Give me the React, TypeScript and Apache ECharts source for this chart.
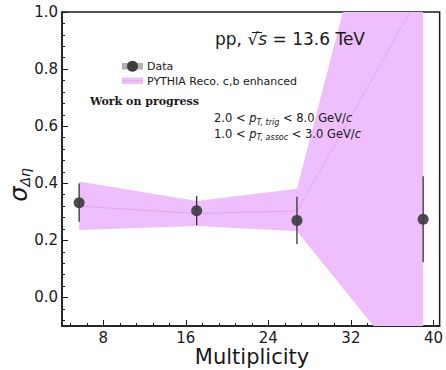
import React, { useEffect, useRef } from "react";
import * as echarts from "echarts";

// Multiplicity bins (x positions of the measurements)
const multiplicity = [5.66, 17.05, 26.77, 39.0];
// Measured width of the near-side peak and its uncertainty
const dataSigma = [0.332, 0.304, 0.27, 0.274];
const dataErr = [0.067, 0.051, 0.083, 0.151];
// PYTHIA prediction: central value and band edges
const pythiaSigma = [0.32, 0.294, 0.303, 1.08];
const pythiaLow = [0.236, 0.25, 0.232, -0.315];
const pythiaHigh = [0.406, 0.338, 0.381, 2.08];

// Axis ticks
const xMajorTicks = [8, 16, 24, 32, 40];
const yMajorTicks = [0, 0.2, 0.4, 0.6, 0.8, 1.0];
const X_MIN = 4;
const X_MAX = 40.6;
const Y_MIN = -0.1;
const Y_MAX = 1.0;

const xMinorTicks: number[] = [];
for (let k = 3; k <= 25; k++) {
  if (k % 5 !== 0) xMinorTicks.push(+(k * 1.6).toFixed(2));
}
const yMinorTicks: number[] = [];
for (let k = -2; k <= 25; k++) {
  if (k % 5 !== 0) yMinorTicks.push(+(k * 0.04).toFixed(2));
}

const FONT = "DejaVu Sans";
const INK = "#1a1a1a";
const BAND = "#efbefc";
const BAND_LINE = "#dc8fe6";
const POINT = "#3e3e42";

function valueAxis(min: number, max: number, position: string, ticks: number[], major: boolean) {
  return {
    type: "value",
    min,
    max,
    position,
    offset: 0,
    axisLine: {
      show: true,
      onZero: false,
      lineStyle: { color: INK, width: 1.5, opacity: major ? 1 : 0 },
    },
    axisTick: {
      show: true,
      inside: true,
      length: major ? 6 : 3,
      customValues: ticks,
      lineStyle: { color: INK, width: 1 },
    },
    axisLabel: major
      ? {
          show: true,
          customValues: ticks,
          color: INK,
          fontFamily: FONT,
          fontSize: 15,
          margin: 4,
        }
      : { show: false },
    splitLine: { show: false },
  };
}

export default function App() {
  const ref = useRef<HTMLDivElement>(null);

  useEffect(() => {
    if (!ref.current) return;
    const chart = echarts.init(ref.current, null, { renderer: "svg" });

    const yMain: any = valueAxis(Y_MIN, Y_MAX, "left", yMajorTicks, true);
    yMain.axisLabel.formatter = (v: number) => v.toFixed(1);

    const subRich = {
      n: { fontFamily: FONT, fontSize: 11.5, lineHeight: 16, fill: INK },
      i: { fontFamily: FONT, fontSize: 11.5, fontStyle: "italic", lineHeight: 16, fill: INK },
      s: { fontFamily: FONT, fontSize: 8, fontStyle: "italic", lineHeight: 9, verticalAlign: "bottom", fill: INK },
    };

    const option: any = {
      animation: false,
      backgroundColor: "#ffffff",
      grid: {
        left: 62,
        top: 12,
        right: 4,
        bottom: 44,
        show: true,
        borderColor: INK,
        borderWidth: 1.5,
        backgroundColor: "transparent",
      },
      xAxis: [
        valueAxis(X_MIN, X_MAX, "bottom", xMajorTicks, true),
        valueAxis(X_MIN, X_MAX, "bottom", xMinorTicks, false),
      ],
      yAxis: [yMain, valueAxis(Y_MIN, Y_MAX, "left", yMinorTicks, false)],
      series: [
        {
          // PYTHIA uncertainty band, drawn as one polygon through the axis scales
          name: "PYTHIA band",
          type: "custom",
          clip: true,
          silent: true,
          data: multiplicity.map((x, i) => [x, pythiaSigma[i]]),
          encode: { x: 0, y: 1 },
          renderItem: (params: any, api: any) => {
            if (params.dataIndex !== 0) return null;
            const upper = multiplicity.map((x, i) => api.coord([x, pythiaHigh[i]]));
            const lower = multiplicity
              .map((x, i) => api.coord([x, pythiaLow[i]]))
              .reverse();
            return {
              type: "polygon",
              shape: { points: [...upper, ...lower] },
              style: { fill: BAND },
            };
          },
          z: 1,
        },
        {
          name: "PYTHIA",
          type: "line",
          symbol: "none",
          silent: true,
          lineStyle: { color: BAND_LINE, width: 1, type: "dotted" },
          data: multiplicity.map((x, i) => [x, pythiaSigma[i]]),
          z: 2,
        },
        {
          name: "errors",
          type: "custom",
          silent: true,
          data: multiplicity.map((x, i) => [x, dataSigma[i], dataErr[i]]),
          encode: { x: 0, y: 1 },
          renderItem: (_params: any, api: any) => {
            const x = api.value(0);
            const y = api.value(1);
            const e = api.value(2);
            const p1 = api.coord([x, y - e]);
            const p2 = api.coord([x, y + e]);
            return {
              type: "line",
              shape: { x1: p1[0], y1: p1[1], x2: p2[0], y2: p2[1] },
              style: { stroke: "#333336", lineWidth: 1.3 },
            };
          },
          z: 3,
        },
        {
          name: "Data",
          type: "scatter",
          symbol: "circle",
          symbolSize: 11,
          silent: true,
          itemStyle: { color: POINT, opacity: 0.92 },
          data: multiplicity.map((x, i) => [x, dataSigma[i]]),
          z: 4,
        },
      ],
      graphic: [
        // legend: Data
        {
          type: "rect",
          shape: { x: 122, y: 63, width: 21, height: 6.5 },
          style: { fill: "#b3b3b3" },
          z: 10,
        },
        {
          type: "circle",
          shape: { cx: 132.5, cy: 66.2, r: 5.5 },
          style: { fill: POINT },
          z: 11,
        },
        {
          type: "text",
          style: {
            text: "Data",
            x: 147,
            y: 66,
            fill: INK,
            font: `11px '${FONT}'`,
            verticalAlign: "middle",
          },
          z: 10,
        },
        // legend: PYTHIA
        {
          type: "rect",
          shape: { x: 122, y: 77.5, width: 21, height: 6.5 },
          style: { fill: BAND },
          z: 10,
        },
        {
          type: "line",
          shape: { x1: 122, y1: 80.7, x2: 143, y2: 80.7 },
          style: { stroke: BAND_LINE, lineWidth: 1, lineDash: [1, 1] },
          z: 11,
        },
        {
          type: "text",
          style: {
            text: "PYTHIA Reco. c,b enhanced",
            x: 147,
            y: 81,
            fill: INK,
            font: `11px '${FONT}'`,
            verticalAlign: "middle",
          },
          z: 10,
        },
        {
          type: "text",
          style: {
            text: "Work on progress",
            x: 90,
            y: 101,
            fill: INK,
            font: "bold 11px 'DejaVu Serif'",
            verticalAlign: "middle",
          },
          z: 10,
        },
        // collision system
        {
          type: "text",
          style: {
            text: "{n|pp, √}{i|s}{n| = 13.6 TeV}",
            x: 215,
            y: 39,
            fill: INK,
            verticalAlign: "middle",
            rich: {
              n: { fontFamily: FONT, fontSize: 17, fill: INK },
              i: { fontFamily: FONT, fontSize: 17, fontStyle: "italic", fill: INK },
            },
          },
          z: 10,
        },
        {
          type: "line",
          shape: { x1: 252, y1: 32.5, x2: 262, y2: 32.5 },
          style: { stroke: INK, lineWidth: 1 },
          z: 10,
        },
        // kinematic selection
        {
          type: "text",
          style: {
            text: "{n|2.0 < }{i|p}{s|T, trig}{n| < 8.0 GeV/}{i|c}",
            x: 214,
            y: 118,
            verticalAlign: "middle",
            rich: subRich,
          },
          z: 10,
        },
        {
          type: "text",
          style: {
            text: "{n|1.0 < }{i|p}{s|T, assoc}{n| < 3.0 GeV/}{i|c}",
            x: 214,
            y: 133.5,
            verticalAlign: "middle",
            rich: subRich,
          },
          z: 10,
        },
        // axis titles
        {
          type: "text",
          x: 252,
          y: 357,
          style: {
            text: "Multiplicity",
            x: 0,
            y: 0,
            fill: INK,
            font: `21px '${FONT}'`,
            align: "center",
            verticalAlign: "middle",
          },
          z: 10,
        },
        {
          type: "text",
          x: 19,
          y: 185,
          rotation: Math.PI / 2,
          style: {
            text: "{g|σ}{d|Δη}",
            x: 0,
            y: 0,
            align: "center",
            verticalAlign: "middle",
            rich: {
              g: { fontFamily: FONT, fontSize: 24, fontStyle: "italic", lineHeight: 26, fill: INK },
              d: { fontFamily: FONT, fontSize: 14, fontStyle: "italic", lineHeight: 14, verticalAlign: "bottom", fill: INK },
            },
          },
          z: 10,
        },
      ],
    };

    chart.setOption(option);
    return () => chart.dispose();
  }, []);

  return (
    <div
      ref={ref}
      style={{ position: "absolute", left: 0, top: 0, width: 446, height: 370 }}
    />
  );
}
